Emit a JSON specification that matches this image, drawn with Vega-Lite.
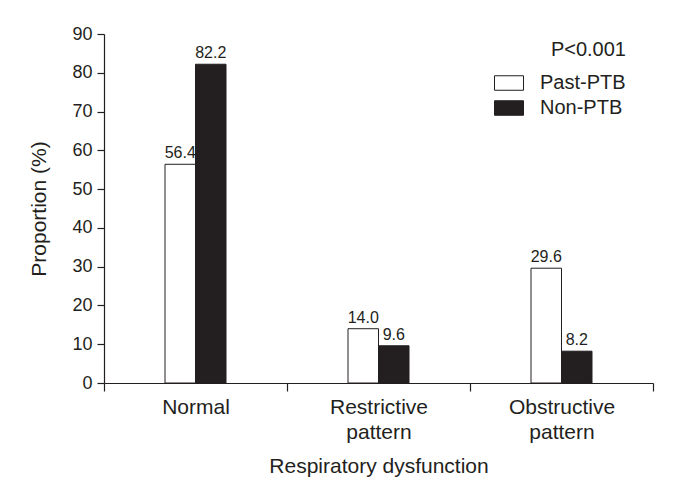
{
  "$schema": "https://vega.github.io/schema/vega-lite/v6.json",
  "autosize": "none",
  "width": 549,
  "height": 349,
  "padding": {"left": 104, "top": 34, "right": 37, "bottom": 110},
  "background": "white",
  "config": {
    "font": "Liberation Sans",
    "view": {"stroke": null},
    "axis": {"domainColor": "#231f20", "tickColor": "#231f20", "labelColor": "#231f20", "titleColor": "#231f20", "labelFontSize": 18, "titleFontSize": 21, "titleFontWeight": "normal", "grid": false, "domainWidth": 1.2, "tickWidth": 1.2}
  },
  "data": {
    "values": [
      {"dysfunction": "Normal", "group": "Past-PTB", "proportion": 56.4},
      {"dysfunction": "Normal", "group": "Non-PTB", "proportion": 82.2},
      {"dysfunction": "Restrictive pattern", "group": "Past-PTB", "proportion": 14.0},
      {"dysfunction": "Restrictive pattern", "group": "Non-PTB", "proportion": 9.6},
      {"dysfunction": "Obstructive pattern", "group": "Past-PTB", "proportion": 29.6},
      {"dysfunction": "Obstructive pattern", "group": "Non-PTB", "proportion": 8.2}
    ]
  },
  "encoding": {
    "x": {
      "field": "dysfunction", "type": "nominal", "sort": null,
      "scale": {"paddingInner": 0, "paddingOuter": 0},
      "axis": {"title": "Respiratory dysfunction", "labelAngle": 0, "tickBand": "extent", "tickSize": 8, "labelPadding": 5, "labelFontSize": 21, "labelExpr": "datum.value ? split(datum.value, ' ') : ''", "labelLineHeight": 25, "titlePadding": 13, "labelBaseline": "top"}
    },
    "xOffset": {"field": "group", "type": "nominal", "scale": {"domain": ["_l", "Past-PTB", "Non-PTB", "_r"], "paddingInner": 0, "paddingOuter": 1}},
    "y": {
      "field": "proportion", "type": "quantitative",
      "scale": {"domain": [0, 90], "nice": false},
      "axis": {"title": "Proportion (%)", "values": [0,10,20,30,40,50,60,70,80,90], "tickSize": 7, "labelPadding": 5, "titlePadding": 22}
    }
  },
  "layer": [
    {
      "mark": {"type": "bar", "stroke": "#231f20", "strokeWidth": 1},
      "encoding": {
        "fill": {
          "field": "group", "type": "nominal",
          "scale": {"domain": ["Past-PTB", "Non-PTB"], "range": ["white", "#231f20"]},
          "legend": {
            "title": "P<0.001", "orient": "none", "legendX": 390, "legendY": 6,
            "titleFontSize": 20, "titleFontWeight": "normal", "titleColor": "#231f20", "titleAnchor": "end", "titlePadding": 8,
            "labelFontSize": 20, "labelColor": "#231f20", "labelOffset": 16,
            "symbolType": "M-1,-0.5H1V0.5H-1Z", "symbolSize": 841, "symbolStrokeColor": "#231f20", "symbolStrokeWidth": 1, "rowPadding": 0
          }
        }
      }
    },
    {
      "mark": {"type": "text", "baseline": "bottom", "dy": -3, "fontSize": 16, "color": "#231f20"},
      "encoding": {
        "text": {"field": "proportion", "type": "quantitative", "format": ".1f"}
      }
    }
  ]
}
